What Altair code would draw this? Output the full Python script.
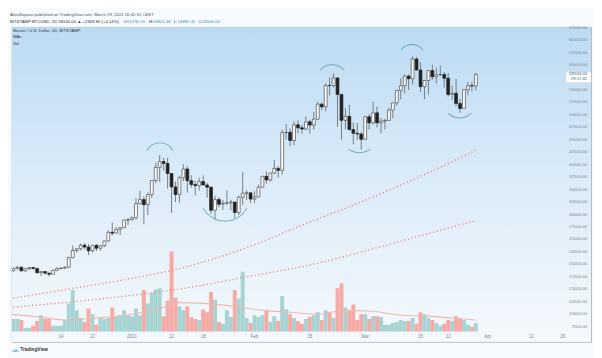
import altair as alt
import pandas as pd

FONT = "Liberation Sans"

# ---------------- data ----------------
dates = pd.date_range("2020-12-01", "2021-03-29", freq="D").strftime("%Y-%m-%d").tolist()

closes = [18790, 19220, 19450, 18700, 19150, 19370, 19190, 18320, 18550, 18250,
          18040, 18800, 19170, 19280, 19440, 21350, 22800, 23130, 23850, 23480,
          22730, 23820, 23250, 23730, 24700, 26440, 26270, 27040, 27360, 28890,
          28980, 29370, 32190, 33000, 31990, 33990, 36820, 39460, 40630, 40240,
          38240, 35540, 34010, 37390, 39150, 36800, 36020, 35800, 36630, 35930,
          35490, 30850, 33000, 32080, 32280, 32350, 32500, 30400, 33460, 34300,
          34350, 33100, 33540, 35500, 37670, 36940, 38300, 39260, 38880, 46450,
          46500, 44850, 48000, 47400, 47150, 48600, 47950, 49150, 52150, 51600,
          55900, 55880, 57400, 54100, 48900, 49700, 47050, 46300, 46150, 45100,
          49600, 48400, 50400, 48400, 48750, 48880, 50970, 52400, 54900, 55850,
          57780, 57250, 61200, 59000, 55650, 56900, 58900, 57650, 58050, 58100,
          57350, 54100, 54350, 52300, 51300, 55050, 55850, 55790, 58100]

opens = [19700, 18790, 19220, 19450, 18700, 19150, 19370, 19190, 18320, 18550,
         18250, 18040, 18800, 19170, 19280, 19440, 21350, 22800, 23130, 23850,
         23480, 22730, 23820, 23250, 23730, 24700, 26440, 26270, 27040, 27360,
         28890, 28980, 29370, 32190, 33000, 31990, 33990, 36820, 39460, 40630,
         40240, 38240, 35540, 34010, 37390, 39150, 36800, 36020, 35800, 36630,
         35930, 35490, 30850, 33000, 32080, 32280, 32350, 32500, 30400, 33460,
         34300, 34350, 33100, 33540, 35500, 37670, 36940, 38300, 39260, 38880,
         46450, 46500, 44850, 48000, 47400, 47150, 48600, 47950, 49150, 52150,
         51600, 55900, 55880, 57400, 54100, 48900, 49700, 47050, 46300, 46150,
         45100, 49600, 48400, 50400, 48400, 48750, 48880, 50970, 52400, 54900,
         55850, 57780, 57250, 61200, 59000, 55650, 56900, 58900, 57650, 58050,
         58100, 57350, 54100, 54350, 52300, 51300, 55050, 55850, 55790]

highs = [19920, 19310, 19580, 19520, 19180, 19420, 19400, 19290, 18640, 18560,
         18280, 18950, 19420, 19350, 19570, 21560, 23800, 23280, 24170, 24280,
         24100, 23830, 24100, 23790, 24750, 26860, 28400, 27450, 27380, 28990,
         29300, 29600, 33300, 34800, 33600, 34450, 36900, 40400, 41950, 41350,
         41350, 38300, 36600, 37800, 40100, 39700, 37900, 36800, 37400, 37850,
         36400, 35600, 33800, 33450, 32950, 34880, 32950, 32550, 33800, 38500,
         34900, 34400, 34700, 35980, 37700, 38700, 38350, 40950, 39700, 47000,
         48200, 47300, 48650, 48900, 48000, 49700, 49000, 50600, 52600, 52500,
         56300, 57500, 58350, 57500, 54200, 51350, 52000, 48400, 48350, 46600,
         49800, 50200, 52600, 51700, 49400, 49200, 51400, 52450, 54950, 57300,
         58100, 58100, 61700, 61600, 60600, 57000, 58950, 60100, 59450, 59900,
         58600, 58400, 55850, 57200, 53200, 55100, 56600, 56550, 58400]

lows = [18330, 18500, 18920, 18580, 18550, 18860, 18920, 18200, 17650, 17910,
        17570, 18020, 18720, 19000, 19050, 19300, 21230, 22360, 22780, 23080,
        21900, 22380, 22700, 22700, 23450, 24500, 25800, 26100, 25880, 27320,
        27880, 28700, 28950, 32000, 28100, 29900, 33300, 36300, 36500, 38800,
        35200, 30300, 32500, 32400, 36700, 34400, 35400, 33850, 34800, 35900,
        33400, 30070, 28950, 31400, 30950, 31950, 30850, 29240, 29900, 31950,
        32900, 32300, 32300, 33450, 35400, 36200, 36600, 38200, 37400, 38050,
        45000, 43700, 43900, 46300, 46200, 47000, 46250, 47050, 48950, 50950,
        50700, 53900, 55500, 47600, 45000, 47100, 46900, 44100, 45000, 43000,
        45000, 47050, 48100, 47500, 46300, 47100, 48800, 49300, 51800, 53100,
        54300, 55000, 56100, 58900, 54600, 53100, 54100, 57050, 56300, 57800,
        55500, 53700, 53000, 51700, 50400, 51250, 53950, 54650, 54890]

volumes = [6000, 5200, 5200, 4800, 1600, 1600, 2400, 4400, 6800, 5200,
           5200, 2400, 2400, 2400, 4800, 11600, 17200, 8800, 5600, 4000,
           9600, 7200, 2800, 5600, 5200, 5600, 10000, 6400, 6800, 8800,
           6800, 6400, 9600, 6800, 17200, 11600, 16000, 17600, 18000, 6400,
           12800, 33200, 14000, 10400, 8800, 10400, 6000, 5200, 4800, 9200,
           8000, 16400, 13200, 4000, 3200, 8800, 6000, 17200, 13600, 24800,
           5600, 3600, 6800, 6000, 6800, 8800, 4000, 6400, 4400, 14800,
           9200, 7200, 5600, 4400, 3200, 5200, 6000, 6800, 8000, 4800,
           8800, 8000, 5600, 18000, 20000, 10000, 8800, 11200, 4800, 7200,
           7200, 5200, 6400, 6400, 6000, 2800, 2800, 3600, 4000, 4800,
           4400, 4400, 5600, 3200, 8000, 7200, 5600, 4800, 3600, 2400,
           3200, 4800, 4400, 6400, 5600, 4800, 2800, 2000, 3600]

# moving averages (sampled along the lines)
ma_long_dates = ["2020-12-01", "2020-12-16", "2021-01-01", "2021-01-15", "2021-02-01",
                 "2021-02-15", "2021-03-01", "2021-03-15", "2021-03-29"]
ma_long_vals = [13100, 15050, 17200, 19570, 23950, 28500, 32850, 37690, 42900]
ma_short_dates = ["2020-12-01", "2021-01-01", "2021-01-15", "2021-02-01",
                  "2021-02-15", "2021-03-01", "2021-03-15", "2021-03-29"]
ma_short_vals = [11370, 13800, 15300, 17800, 19880, 22700, 25750, 28800]
vol_ma_dates = ["2020-12-01", "2020-12-09", "2020-12-15", "2020-12-23", "2021-01-01",
                "2021-01-08", "2021-01-13", "2021-01-20", "2021-01-27", "2021-02-03",
                "2021-02-10", "2021-02-17", "2021-02-24", "2021-03-03", "2021-03-10",
                "2021-03-17", "2021-03-23", "2021-03-29"]
vol_ma_vals = [7200, 6000, 4800, 5600, 7200, 9600, 12000, 11600, 10400, 8800,
               8000, 7200, 8800, 8400, 6800, 6400, 5600, 4800]

# 57500 sits under the last-price box in the reference, so it is not shown
price_ticks = [7500, 10000, 12500, 15000, 17500, 20000, 22500, 25000, 27500, 30000,
               32500, 35000, 37500, 40000, 42500, 45000, 47500, 50000, 52500, 55000,
               60000, 62500, 65000, 67500]
time_tick_dates = ["2020-12-14", "2020-12-22", "2021-01-01", "2021-01-11", "2021-01-19",
                   "2021-02-01", "2021-02-15", "2021-03-01", "2021-03-15", "2021-03-22",
                   "2021-04-01", "2021-04-12", "2021-04-20"]
time_tick_labels = ["14", "22", "2021", "12", "18", "Feb", "15", "Mar", "15", "22",
                    "Apr", "12", "20"]

# hand-drawn arcs: centre (date position, price)
arc_pos = [38.04, 54.55, 81.64, 88.54, 101.84, 113.9]
arc_price = [41362, 33622, 56842, 46200, 61293, 52585]

# ---------------- tables ----------------
T0 = pd.Timestamp("2020-12-01")
def day_index(ds):
    return [(pd.Timestamp(d) - T0).days for d in ds]

df = pd.DataFrame(dict(date=dates, open=opens, high=highs, low=lows,
                       close=closes, volume=volumes))
df["i"] = day_index(df["date"])
df["up"] = df["close"] >= df["open"]
df["bx1"] = df["i"] - 0.36
df["bx2"] = df["i"] + 0.36
df["vx1"] = df["i"] - 0.5
df["vx2"] = df["i"] + 0.5
df["zero"] = 0

ma_long = pd.DataFrame(dict(i=day_index(ma_long_dates), v=ma_long_vals))
ma_short = pd.DataFrame(dict(i=day_index(ma_short_dates), v=ma_short_vals))
vol_ma = pd.DataFrame(dict(i=day_index(vol_ma_dates), v=vol_ma_vals))
yt = pd.DataFrame(dict(p=price_ticks, label=[f"{p:.2f}" for p in price_ticks]))
xt = pd.DataFrame(dict(i=day_index(time_tick_dates), label=time_tick_labels))
last = df.iloc[[-1]].copy()
last["top"] = last["close"] + 480
last["bot"] = last["close"] - 1640
one = pd.DataFrame({"a": [0]})

# ---------------- geometry ----------------
W, H = 587, 319
xs = alt.Scale(domain=[0.619, 147.15], nice=False, zero=False)
ys = alt.Scale(domain=[4462, 67603], nice=False, zero=False)
vs = alt.Scale(domain=[-4255, 126263], nice=False, zero=False)

def X(f):
    return alt.X(f, type="quantitative", scale=xs, axis=None)
def Y(f):
    return alt.Y(f, type="quantitative", scale=ys, axis=None)
def V(f):
    return alt.Y(f, type="quantitative", scale=vs, axis=None)

UP_VOL, DN_VOL = "#a7d3d2", "#f5aaa5"
grad = {"gradient": "linear", "x1": 0, "x2": 0, "y1": 0, "y2": 1,
        "stops": [{"offset": 0, "color": "#bcdbf3"},
                  {"offset": 0.45, "color": "#d9eaf8"},
                  {"offset": 1, "color": "#f5f9fd"}]}

bg = alt.Chart(one).mark_rect(color=grad).encode(
    x=alt.value(0), x2=alt.value(W), y=alt.value(0), y2=alt.value(H))

vol = alt.Chart(df).mark_rect(clip=True).encode(
    x=X("vx1"), x2="vx2", y=V("volume"), y2="zero:Q",
    color=alt.condition("datum.up", alt.value(UP_VOL), alt.value(DN_VOL)))

volma = alt.Chart(vol_ma).mark_line(color="#f0b9ab", strokeWidth=1.1, clip=True,
                                    interpolate="monotone").encode(x=X("i"), y=V("v"))

ma1 = alt.Chart(ma_long).mark_line(color="#ef7e76", strokeWidth=1.3, strokeDash=[1.2, 2.6],
                                   clip=True, interpolate="monotone").encode(x=X("i"), y=Y("v"))
ma2 = alt.Chart(ma_short).mark_line(color="#ef7e76", strokeWidth=1.3, strokeDash=[1.2, 2.6],
                                    clip=True, interpolate="monotone").encode(x=X("i"), y=Y("v"))

wick = alt.Chart(df).mark_rule(color="#5b666e", strokeWidth=0.8, clip=True).encode(
    x=X("i"), y=Y("low"), y2="high:Q")
body = alt.Chart(df).mark_rect(strokeWidth=0.7, clip=True).encode(
    x=X("bx1"), x2="bx2", y=Y("open"), y2="close:Q",
    fill=alt.condition("datum.up", alt.value("#ffffff"), alt.value("#222222")),
    stroke=alt.condition("datum.up", alt.value("#4a4a4a"), alt.value("#222222")))

arcs = []
arc_r = [15.7, 25.5, 16.7, 19.6, 14.7, 16.7]
arc_half = [1.05, 1.08, 0.85, 0.62, 0.9, 0.8]
arc_top = [True, False, True, False, True, False]
TWO_PI = 6.283185
for k in range(len(arc_pos)):
    c = TWO_PI if arc_top[k] else TWO_PI / 2
    arcs.append(
        alt.Chart(pd.DataFrame({"i": [arc_pos[k]], "p": [arc_price[k]]})).mark_arc(
            radius=arc_r[k], radius2=arc_r[k] - 0.9,
            theta=c - arc_half[k], theta2=c + arc_half[k],
            color="#54a2a7", opacity=0.85).encode(x=X("i"), y=Y("p")))

ylab = alt.Chart(yt).mark_text(align="right", baseline="middle", fontSize=4.4,
                               font=FONT, color="#7b848c").encode(
    x=alt.value(583), y=Y("p"), text="label:N")

xlab = alt.Chart(xt).mark_text(align="center", baseline="middle", fontSize=4.5,
                               font=FONT, color="#7b848c").encode(
    x=X("i"), y=alt.value(314.5), text="label:N")

pbox = alt.Chart(last).mark_rect(fill="#ffffff", stroke="#c9d3dc", strokeWidth=0.5).encode(
    x=alt.value(561.5), x2=alt.value(587), y=Y("top"), y2="bot:Q")
ptxt = alt.Chart(last).mark_text(align="right", baseline="middle", fontSize=4.4,
                                 font=FONT, color="#3d5a70").encode(
    x=alt.value(583), y=Y("close"), text=alt.Text("close:Q", format=".2f"))
ptimer = alt.Chart(last).mark_text(align="right", baseline="middle", fontSize=4.2, dy=4.4,
                                   font=FONT, color="#3d5a70").encode(
    x=alt.value(583), y=Y("close"), text=alt.value("29:17:42"))

def label(txt, x, y, size=4.3, color="#444444", weight="normal", align="left", font=FONT):
    return alt.Chart(one).mark_text(align=align, baseline="middle", fontSize=size,
                                    font=font, color=color, fontWeight=weight).encode(
        x=alt.value(x), y=alt.value(y), text=alt.value(txt))

texts = [
    label("AkiraSquare published on TradingView.com, March 29, 2021 16:42:31 CEST", -2, -12.1,
          color="#505050"),
    label("BITSTAMP:BTCUSD, 1D 58100.00 \u25b2 +2309.80 (+4.14%)", -2, -5.3, color="#333333"),
    label("O:", 113, -5.3, color="#333333"),
    label("55790.20", 117, -5.3, color="#2f8fb5"),
    label("H:", 139, -5.3, color="#333333"),
    label("58402.46", 143, -5.3, color="#2f8fb5"),
    label("L:", 164, -5.3, color="#333333"),
    label("54892.42", 168, -5.3, color="#2f8fb5"),
    label("C:", 189, -5.3, color="#333333"),
    label("58100.00", 193, -5.3, color="#2f8fb5"),
    label("Bitcoin / U.S. Dollar, 1D, BITSTAMP", 1, 3.6, color="#333333"),
    label("MAs", 1, 10.5, color="#333333"),
    label("Vol", 1, 17.3, color="#333333"),
    label("\u2601", -1, 327, size=8, color="#8fc3e8", font="DejaVu Sans"),
    label("TradingView", 8.5, 327, size=4.8, color="#333333", weight="bold"),
]

chart = alt.layer(
    bg, vol, volma, ma1, ma2, wick, body, *arcs, ylab, xlab, pbox, ptxt, ptimer, *texts
).resolve_scale(y="independent").properties(
    width=W, height=H,
    autosize=alt.AutoSizeParams(type="none"),
    padding={"left": 4, "top": 17, "right": 3, "bottom": 14},
    background="#f8fbfe",
).configure_view(stroke="#8e99a2", strokeWidth=0.8)

chart.save("out.html", embed_options={"renderer": "svg", "actions": False})
